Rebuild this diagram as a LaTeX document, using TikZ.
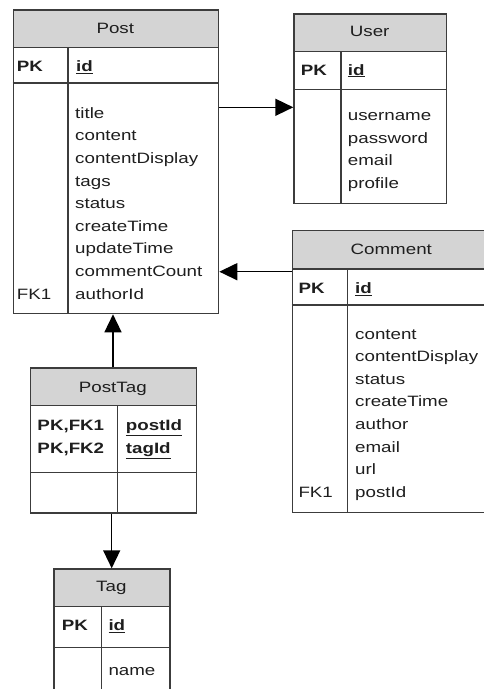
\documentclass[tikz,border=0pt]{standalone}
\usepackage{fontspec}
\setmainfont{Liberation Sans}[FakeStretch=1.25]
\usetikzlibrary{arrows.meta}
\definecolor{bordc}{RGB}{60,60,60}
\definecolor{hdrc}{RGB}{212,212,212}
\definecolor{txtc}{RGB}{30,30,30}
\newcommand\efont{\fontsize{15}{18}\selectfont}
\tikzset{
  ent/.style={draw=bordc, line width=1.3pt, inner sep=0pt, anchor=north west, rectangle},
  hdr/.style={draw=bordc, fill=hdrc, line width=1.3pt, inner sep=0pt, anchor=north west, rectangle},
  sep/.style={draw=bordc, line width=1.3pt},
  txt/.style={anchor=base west, inner sep=0pt, font=\efont, text=txtc},
  ttl/.style={anchor=base, inner sep=0pt, font=\efont, text=txtc},
  key/.style={txt, font=\efont\bfseries},
  arr/.style={line width=1.5pt, draw=black, -{Triangle[length=18pt,width=17pt]}},
}
\newcommand\ul[1]{\underline{\textbf{#1}}}
\begin{document}
\begin{tikzpicture}[x=1pt,y=-1pt]
\useasboundingbox (0,0) rectangle (484,689);
\clip (0,0) rectangle (484,689);

% ---------- Post ----------
\node[ent, minimum width=205.3pt, minimum height=303.7pt] (post) at (12.7,9.3) {};
\node[hdr, minimum width=205.3pt, minimum height=37.4pt] (posth) at (12.7,9.3) {};
\draw[sep] (post.west |- 0,83) -- (post.east |- 0,83);
\draw[sep] (posth.south -| 68,0) -- (post.south -| 68,0);
\node[ttl] (post-t) at (115.3,33.3) {Post};
\node[key] (post-pk) at (16.7,71.7) {PK};
\node[txt] (post-id) at (76,71.7) {\ul{id}};
\foreach \t [count=\i from 0] in {title,content,contentDisplay,tags,status,createTime,updateTime,commentCount,authorId}
  \node[txt] (post-a\i) at (75,118.3+22.6*\i) {\t};
\node[txt] (post-fk) at (16.7,299.1) {FK1};

% ---------- User ----------
\node[ent, minimum width=152.7pt, minimum height=189.4pt] (user) at (293.3,13.3) {};
\node[hdr, minimum width=152.7pt, minimum height=37.7pt] (userh) at (293.3,13.3) {};
\draw[sep] (user.west |- 0,89.3) -- (user.east |- 0,89.3);
\draw[sep] (userh.south -| 341,0) -- (user.south -| 341,0);
\node[ttl] (user-t) at (369.7,36.7) {User};
\node[key] (user-pk) at (300.7,75) {PK};
\node[txt] (user-id) at (347.7,75) {\ul{id}};
\foreach \t [count=\i from 0] in {username,password,email,profile}
  \node[txt] (user-a\i) at (347.7,120.5+22.6*\i) {\t};

% ---------- Comment ----------
\node[ent, minimum width=199.3pt, minimum height=282pt] (comment) at (291.7,230) {};
\node[hdr, minimum width=199.3pt, minimum height=38.3pt] (commenth) at (291.7,230) {};
\draw[sep] (comment.west |- 0,305) -- (comment.east |- 0,305);
\draw[sep] (commenth.south -| 347.5,0) -- (comment.south -| 347.5,0);
\node[ttl] (comment-t) at (391.3,254.3) {Comment};
\node[key] (comment-pk) at (298.3,293.3) {PK};
\node[txt] (comment-id) at (355,293.3) {\ul{id}};
\foreach \t [count=\i from 0] in {content,contentDisplay,status,createTime,author,email,url,postId}
  \node[txt] (comment-a\i) at (355,339+22.6*\i) {\t};
\node[txt] (comment-fk) at (298.3,497.2) {FK1};

% ---------- PostTag ----------
\node[ent, minimum width=165.7pt, minimum height=145pt] (posttag) at (30,367.3) {};
\node[hdr, minimum width=165.7pt, minimum height=37.7pt] (posttagh) at (30,367.3) {};
\draw[sep] (posttag.west |- 0,472.3) -- (posttag.east |- 0,472.3);
\draw[sep] (posttagh.south -| 117.7,0) -- (posttag.south -| 117.7,0);
\node[ttl] (posttag-t) at (112.8,392.3) {PostTag};
\node[key] (posttag-k1) at (37.3,430.7) {PK,FK1};
\node[key] (posttag-k2) at (37.3,453.3) {PK,FK2};
\node[txt] (posttag-a1) at (125.7,430.7) {\ul{postId}};
\node[txt] (posttag-a2) at (125.7,453.3) {\ul{tagId}};

% ---------- Tag ----------
\node[ent, minimum width=116pt, minimum height=131.7pt] (tag) at (53.3,568.3) {};
\node[hdr, minimum width=116pt, minimum height=37.4pt] (tagh) at (53.3,568.3) {};
\draw[sep] (tag.west |- 0,647.3) -- (tag.east |- 0,647.3);
\draw[sep] (tagh.south -| 101.7,0) -- (tag.south -| 101.7,0);
\node[ttl] (tag-t) at (111.3,591.7) {Tag};
\node[key] (tag-pk) at (61.7,630.7) {PK};
\node[txt] (tag-id) at (108.3,630.7) {\ul{id}};
\node[txt] (tag-a0) at (108.3,675.5) {name};

% ---------- connectors ----------
\draw[arr] (post.east |- 0,107.3) -- (user.west |- 0,107.3);
\draw[arr] (comment.west |- 0,271.7) -- (post.east |- 0,271.7);
\draw[arr] (posttag.north -| 113,0) -- (post.south -| 113,0);
\draw[arr] (posttag.south -| 111.7,0) -- (tag.north -| 111.7,0);
\end{tikzpicture}
\end{document}
